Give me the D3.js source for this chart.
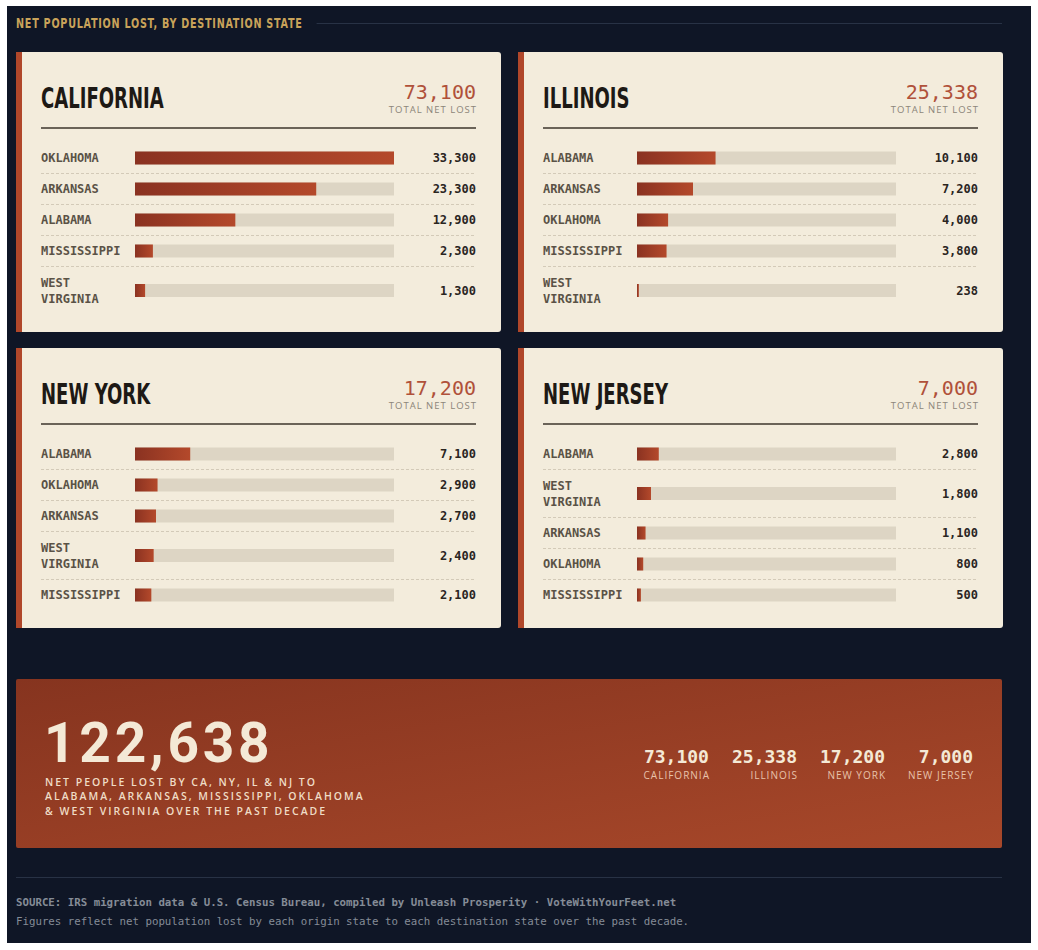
<!DOCTYPE html>
<html>
<head>
<meta charset="utf-8">
<script src="https://cdn.jsdelivr.net/npm/d3@7"></script>
<style>
  html, body { margin: 0; padding: 0; background: #ffffff; }
  svg { display: block; }
</style>
</head>
<body>
<svg id="chart"></svg>
<script>
// origin states and their totals
var origins = ["CALIFORNIA", "ILLINOIS", "NEW YORK", "NEW JERSEY"]
var originTotals = [73100, 25338, 17200, 7000]
var grandTotal = 122638

// destinations per origin (in display order)
var destCA = ["OKLAHOMA", "ARKANSAS", "ALABAMA", "MISSISSIPPI", "WEST VIRGINIA"]
var lostCA = [33300, 23300, 12900, 2300, 1300]
var destIL = ["ALABAMA", "ARKANSAS", "OKLAHOMA", "MISSISSIPPI", "WEST VIRGINIA"]
var lostIL = [10100, 7200, 4000, 3800, 238]
var destNY = ["ALABAMA", "OKLAHOMA", "ARKANSAS", "WEST VIRGINIA", "MISSISSIPPI"]
var lostNY = [7100, 2900, 2700, 2400, 2100]
var destNJ = ["ALABAMA", "WEST VIRGINIA", "ARKANSAS", "OKLAHOMA", "MISSISSIPPI"]
var lostNJ = [2800, 1800, 1100, 800, 500]

var headerText = "NET POPULATION LOST, BY DESTINATION STATE"
var bannerLines = [
  "NET PEOPLE LOST BY CA, NY, IL & NJ TO",
  "ALABAMA, ARKANSAS, MISSISSIPPI, OKLAHOMA",
  "& WEST VIRGINIA OVER THE PAST DECADE"
]
var footerLines = [
  "SOURCE: IRS migration data & U.S. Census Bureau, compiled by Unleash Prosperity \u00b7 VoteWithYourFeet.net",
  "Figures reflect net population lost by each origin state to each destination state over the past decade."
]

var dimensions = {
  width: 1038,
  height: 950,
  frame: { x: 7, y: 6, w: 1024, h: 937 },
  card: { w: 485, h: 280, gapX: 17, gapY: 16, left: 16, top: 52 },
}

var condensed = "'DejaVu Sans Condensed','Liberation Sans Narrow',sans-serif"
var mono = "'DejaVu Sans Mono','Liberation Mono',monospace"
var sans = "'Open Sans','Noto Sans',sans-serif"

var fmt = d3.format(",")

var svg = d3.select("#chart")
  .attr("width", dimensions.width)
  .attr("height", dimensions.height)

var defs = svg.append("defs")

var barGrad = defs.append("linearGradient")
  .attr("id", "barGrad")
  .attr("x1", "0%").attr("x2", "100%").attr("y1", "0%").attr("y2", "0%")
barGrad.append("stop").attr("offset", "0%").attr("stop-color", "#8a3221")
barGrad.append("stop").attr("offset", "100%").attr("stop-color", "#b4492b")

var bannerGrad = defs.append("linearGradient")
  .attr("id", "bannerGrad")
  .attr("x1", "0%").attr("x2", "100%").attr("y1", "0%").attr("y2", "100%")
bannerGrad.append("stop").attr("offset", "0%").attr("stop-color", "#86341f")
bannerGrad.append("stop").attr("offset", "100%").attr("stop-color", "#a8482a")

// dark frame
svg.append("rect")
  .attr("x", dimensions.frame.x).attr("y", dimensions.frame.y)
  .attr("width", dimensions.frame.w).attr("height", dimensions.frame.h)
  .attr("fill", "#0f1626")

// header (squeezed horizontally to get the condensed look)
var headScale = 0.74
var header = svg.append("text")
  .attr("transform", "translate(16,28) scale(" + headScale + ",1)")
  .style("font-family", condensed)
  .style("font-weight", "bold")
  .style("font-size", "14.5px")
  .style("letter-spacing", "1px")
  .attr("fill", "#c9a35a")
  .text(headerText)
var headerEnd = 16 + header.node().getComputedTextLength() * headScale
svg.append("line")
  .attr("x1", headerEnd + 14).attr("x2", 1002)
  .attr("y1", 23.5).attr("y2", 23.5)
  .attr("stroke", "#283245").attr("stroke-width", 1)

// one bar scale shared by every card
var trackW = 259
var xScale = d3.scaleLinear()
  .domain([0, d3.max(lostCA.concat(lostIL, lostNY, lostNJ))])
  .range([0, trackW])

var cards = [
  { name: origins[0], total: originTotals[0], dest: destCA, vals: lostCA },
  { name: origins[1], total: originTotals[1], dest: destIL, vals: lostIL },
  { name: origins[2], total: originTotals[2], dest: destNY, vals: lostNY },
  { name: origins[3], total: originTotals[3], dest: destNJ, vals: lostNJ },
]

cards.forEach(function(c, i) {
  var cd = dimensions.card
  var x0 = cd.left + (i % 2) * (cd.w + cd.gapX)
  var y0 = cd.top + Math.floor(i / 2) * (cd.h + cd.gapY)
  var g = svg.append("g").attr("transform", "translate(" + x0 + "," + y0 + ")")

  g.append("rect")
    .attr("width", cd.w).attr("height", cd.h).attr("rx", 3)
    .attr("fill", "#f3ecdc")
  g.append("rect")
    .attr("width", 6).attr("height", cd.h)
    .attr("fill", "#b0472a")

  var left = 25, right = 460, trackX = 119

  g.append("text")
    .attr("transform", "translate(" + left + ",56) scale(0.73,1)")
    .style("font-family", condensed)
    .style("font-weight", "bold")
    .style("font-size", "27.5px")
    .attr("fill", "#1d1915")
    .text(c.name)

  g.append("text")
    .attr("x", right).attr("y", 47)
    .attr("text-anchor", "end")
    .style("font-family", mono)
    .style("font-size", "20px")
    .attr("fill", "#b0513a")
    .text(fmt(c.total))

  g.append("text")
    .attr("x", right + 1).attr("y", 61)
    .attr("text-anchor", "end")
    .style("font-family", sans)
    .style("font-size", "9.5px")
    .style("letter-spacing", "1px")
    .attr("fill", "#8c8579")
    .text("TOTAL NET LOST")

  g.append("line")
    .attr("x1", left).attr("x2", right)
    .attr("y1", 76).attr("y2", 76)
    .attr("stroke", "#3d362c").attr("stroke-width", 1.5)

  // row layout: wrapped labels get taller rows
  var rows = []
  var yy = 90.5
  c.dest.forEach(function(d, j) {
    var lines = d.indexOf(" ") > 0 ? d.split(" ") : [d]
    var h = lines.length > 1 ? 48 : 31
    rows.push({ label: d, lines: lines, value: c.vals[j], top: yy, mid: yy + h / 2, h: h })
    yy += h
  })

  var row = g.selectAll(".row").data(rows).enter().append("g")
    .attr("class", "row")

  row.filter(function(d, j) { return j > 0 })
    .append("line")
    .attr("x1", left).attr("x2", right)
    .attr("y1", d => d.top).attr("y2", d => d.top)
    .attr("stroke", "#d3cab8").attr("stroke-width", 1)
    .attr("stroke-dasharray", "3,2")

  row.each(function(d) {
    var t = d3.select(this).append("text")
      .style("font-family", mono)
      .style("font-weight", "bold")
      .style("font-size", "12px")
      .attr("fill", "#5a5246")
    var off = (d.lines.length - 1) * 8
    d.lines.forEach(function(l, k) {
      t.append("tspan")
        .attr("x", left)
        .attr("y", d.mid - off + k * 16 + 4)
        .text(l)
    })
  })

  row.append("rect")
    .attr("x", trackX).attr("y", d => d.mid - 6.5)
    .attr("width", trackW).attr("height", 13)
    .attr("fill", "#ddd5c4")

  row.append("rect")
    .attr("x", trackX).attr("y", d => d.mid - 6.5)
    .attr("width", d => Math.max(1.5, xScale(d.value))).attr("height", 13)
    .attr("fill", "url(#barGrad)")

  row.append("text")
    .attr("x", right).attr("y", d => d.mid + 4)
    .attr("text-anchor", "end")
    .style("font-family", mono)
    .style("font-weight", "bold")
    .style("font-size", "12px")
    .attr("fill", "#2a251f")
    .text(d => fmt(d.value))
})

// summary banner
var banner = { x: 16, y: 679, w: 986, h: 169 }
svg.append("rect")
  .attr("x", banner.x).attr("y", banner.y)
  .attr("width", banner.w).attr("height", banner.h)
  .attr("rx", 2)
  .attr("fill", "url(#bannerGrad)")

svg.append("text")
  .attr("x", 44).attr("y", 762)
  .style("font-family", "Roboto, 'Open Sans', sans-serif")
  .style("font-weight", 700)
  .style("font-size", "55px")
  .style("letter-spacing", "3.8px")
  .attr("fill", "#f4e9d6")
  .text(fmt(grandTotal))

svg.append("g").selectAll("text")
  .data(bannerLines)
  .enter()
  .append("text")
  .attr("x", 45)
  .attr("y", (d, i) => 786 + i * 14.3)
  .style("font-family", sans)
  .style("font-weight", 600)
  .style("font-size", "10.5px")
  .style("letter-spacing", "2px")
  .attr("fill", "#efdcc6")
  .text(d => d)

// per-state stats, right aligned with a fixed gap
var statG = svg.append("g")
var statRight = 973
for (var k = originTotals.length - 1; k >= 0; k--) {
  var sg = statG.append("g")
  var num = sg.append("text")
    .attr("x", statRight).attr("y", 763)
    .attr("text-anchor", "end")
    .style("font-family", mono)
    .style("font-weight", "bold")
    .style("font-size", "18px")
    .attr("fill", "#f4e9d6")
    .text(fmt(originTotals[k]))
  var lab = sg.append("text")
    .attr("x", statRight + 1).attr("y", 779)
    .attr("text-anchor", "end")
    .style("font-family", sans)
    .style("font-size", "10px")
    .style("letter-spacing", "1px")
    .attr("fill", "#e8c2aa")
    .text(origins[k])
  var w = Math.max(num.node().getComputedTextLength(), lab.node().getComputedTextLength() - 1)
  statRight -= w + 23
}

// footer
svg.append("line")
  .attr("x1", 16).attr("x2", 1002)
  .attr("y1", 877.5).attr("y2", 877.5)
  .attr("stroke", "#283245").attr("stroke-width", 1)

svg.append("g").selectAll("text")
  .data(footerLines)
  .enter()
  .append("text")
  .attr("x", 16)
  .attr("y", (d, i) => 906 + i * 19)
  .style("font-family", mono)
  .style("font-weight", (d, i) => i == 0 ? "bold" : "normal")
  .style("font-size", "10.75px")
  .attr("fill", "#858c97")
  .text(d => d)
</script>
</body>
</html>
